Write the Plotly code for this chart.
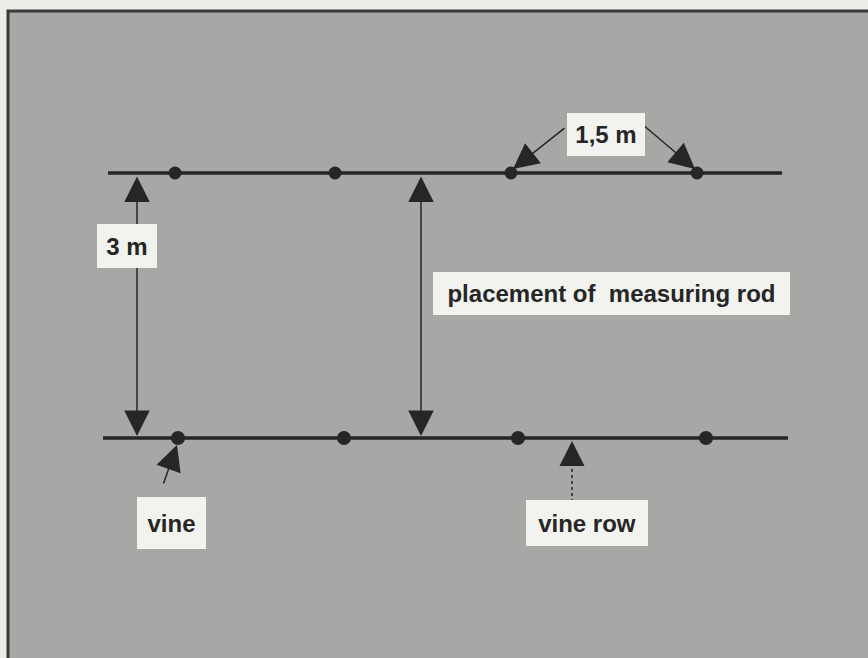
import plotly.graph_objects as go

# layout of the vineyard sketch, in picture units (x right, y down)
row_names = ["upper row", "lower row"]
row_y = [173, 438]
row_x_start = [108, 103]
row_x_end = [782, 788]
vines_upper_x = [175, 335, 511, 697]
vines_lower_x = [178, 344, 518, 706]

labels = ["3 m", "placement of  measuring rod", "1,5 m", "vine", "vine row"]

INK = "#262626"
PAPER = "#ecece8"
FIELD = "#a7a7a5"
BOX = "#f2f2ef"
FONT = dict(family="Liberation Sans, Arial, sans-serif", size=24, color=INK)

fig = go.Figure()

# vine rows
for name, y, x0, x1 in zip(row_names, row_y, row_x_start, row_x_end):
    fig.add_trace(go.Scatter(x=[x0, x1], y=[y, y], mode="lines",
                             line=dict(color=INK, width=3.5), name=name,
                             hoverinfo="skip"))

# vines
fig.add_trace(go.Scatter(x=vines_upper_x, y=[row_y[0]] * len(vines_upper_x),
                         mode="markers", marker=dict(size=13, color=INK),
                         name="vines upper"))
fig.add_trace(go.Scatter(x=vines_lower_x, y=[row_y[1]] * len(vines_lower_x),
                         mode="markers", marker=dict(size=14, color=INK),
                         name="vines lower"))

shapes = [
    dict(type="rect", x0=8, x1=880, y0=11, y1=670, fillcolor=FIELD,
         line=dict(color="#3a3a3a", width=3), layer="below"),
]

# double arrows between rows
arrow_common = dict(xref="x", yref="y", axref="x", ayref="y", text="",
                    showarrow=True, arrowcolor=INK, arrowwidth=1.5,
                    arrowhead=2, startarrowhead=2, arrowsize=3.4,
                    startarrowsize=3.4, arrowside="end+start")
annotations = [
    dict(x=137, y=row_y[1] - 2, ax=137, ay=row_y[0] + 2, **arrow_common),
    dict(x=421, y=row_y[1] - 2, ax=421, ay=row_y[0] + 2, **arrow_common),
]

single = dict(xref="x", yref="y", axref="x", ayref="y", text="",
              showarrow=True, arrowcolor=INK, arrowwidth=1.5,
              arrowhead=2, arrowsize=3.4)
annotations += [
    dict(x=vines_upper_x[2] + 2, y=row_y[0] - 4, ax=566, ay=127, **single),
    dict(x=vines_upper_x[3] - 2, y=row_y[0] - 4, ax=642, ay=124, **single),
    dict(x=vines_lower_x[0] - 1, y=row_y[1] + 7, ax=163, ay=485, **single),
]

# dotted arrow for the vine row
fig.add_trace(go.Scatter(x=[572, 572], y=[502, 462], mode="lines",
                         line=dict(color=INK, width=1.5, dash="dot"),
                         hoverinfo="skip"))
annotations.append(dict(x=572, y=row_y[1] + 3, ax=572, ay=462,
                        **{**single, "arrowwidth": 1.0, "arrowsize": 5.0}))

# label boxes (drawn after the arrows so they sit on top)
boxes = [(97, 157, 224, 268), (433, 790, 272, 315), (567, 645, 113, 156),
         (137, 206, 497, 549), (526, 648, 500, 546)]
for text, (x0, x1, y0, y1) in zip(labels, boxes):
    annotations.append(dict(
        x=(x0 + x1) / 2, y=(y0 + y1) / 2, xref="x", yref="y",
        text=f"<b>{text}</b>", showarrow=False, font=FONT,
        bgcolor=BOX, borderpad=0, borderwidth=0,
        width=x1 - x0, height=y1 - y0, align="center", valign="middle"))

fig.update_layout(
    width=868, height=658,
    margin=dict(l=0, r=0, t=0, b=0),
    paper_bgcolor=PAPER, plot_bgcolor=PAPER,
    showlegend=False,
    shapes=shapes, annotations=annotations,
    xaxis=dict(range=[0, 868], visible=False, fixedrange=True),
    yaxis=dict(range=[658, 0], visible=False, fixedrange=True),
)

fig.write_html("out.html", config={"displayModeBar": False},
               post_script="document.body.style.margin = '0';")
